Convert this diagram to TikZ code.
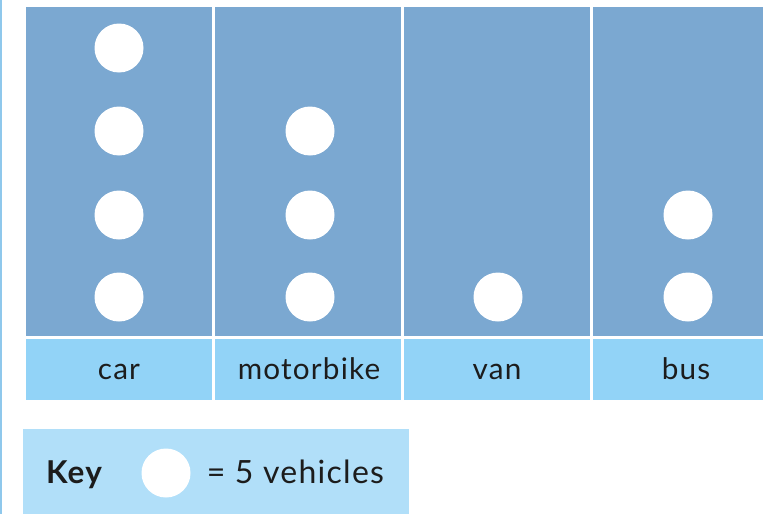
\documentclass[tikz,border=0pt]{standalone}
\usepackage{fontspec}
\setmainfont[LetterSpace=4]{Lato}
\definecolor{plotblue}{HTML}{7BA8D1}
\definecolor{labelblue}{HTML}{92D3F7}
\definecolor{keyblue}{HTML}{B1DFF9}
\definecolor{edgeblue}{HTML}{8FC8EC}
\definecolor{inktext}{HTML}{1C1C1C}
\tikzset{
  x=1pt,y=-1pt,
  plotcell/.style={fill=plotblue,draw=none},
  labelcell/.style={fill=labelblue,draw=none},
  dot/.style={circle,fill=white,draw=none,minimum size=49pt,inner sep=0pt},
  lab/.style={font=\fontsize{29.7}{32}\selectfont,text=inktext,inner sep=0pt,anchor=base},
}
\begin{document}
\begin{tikzpicture}
\useasboundingbox (0,0) rectangle (763,514);
\fill[edgeblue] (0,0) rectangle (1.5,514);
% plot cells
\fill[plotcell] (26,6.5) rectangle (212,336);
\fill[plotcell] (215,6.5) rectangle (401,336);
\fill[plotcell] (404,6.5) rectangle (590,336);
\fill[plotcell] (593,6.5) rectangle (763,336);
% label cells
\fill[labelcell] (26,339) rectangle (212,400);
\fill[labelcell] (215,339) rectangle (401,400);
\fill[labelcell] (404,339) rectangle (590,400);
\fill[labelcell] (593,339) rectangle (763,400);
% dots
\node[dot] (c1) at (119,48) {};
\node[dot] (c2) at (119,131) {};
\node[dot] (c3) at (119,215) {};
\node[dot] (c4) at (119,297) {};
\node[dot] (m1) at (310,131) {};
\node[dot] (m2) at (310,215) {};
\node[dot] (m3) at (310,297) {};
\node[dot] (v1) at (498,297) {};
\node[dot] (b1) at (688,215) {};
\node[dot] (b2) at (688,297) {};
% labels
\node[lab] (car) at (119,379) {car};
\node[lab] (motorbike) at (309,379) {motorbike};
\node[lab] (van) at (497,379) {van};
\node[lab] (bus) at (686,379) {bus};
% key
\fill[keyblue] (23,429) rectangle (408.5,514);
\node[dot] (keydot) at (166,473) {};
\node[lab,font=\fontsize{31.5}{34}\selectfont\bfseries] (key) at (74,483) {Key};
\node[lab,font=\fontsize{32}{34}\selectfont] (eq) at (295.5,483) {= 5 vehicles};
\end{tikzpicture}
\end{document}
